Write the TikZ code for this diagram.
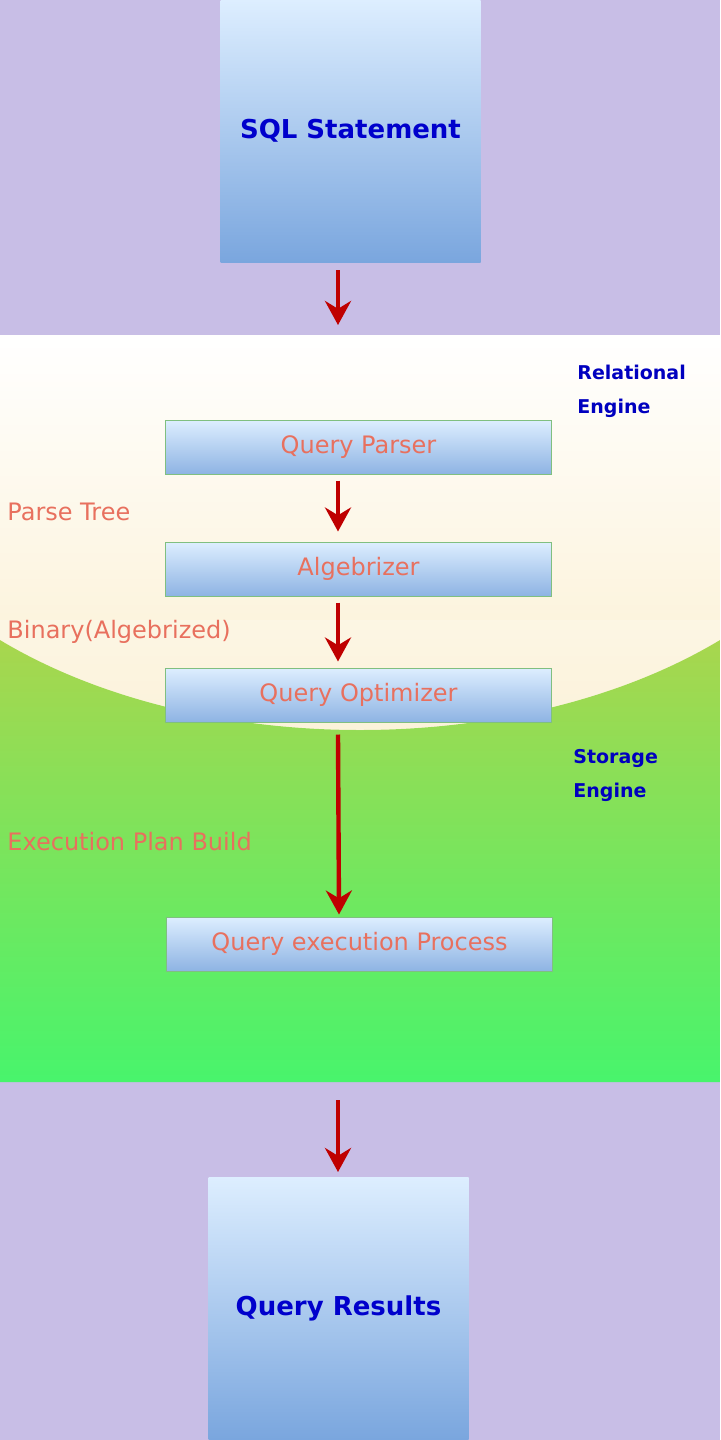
\documentclass[tikz,border=0pt]{standalone}
\usepackage{fontspec}
\setmainfont{DejaVu Sans}
\usetikzlibrary{arrows.meta}
\definecolor{bg}{HTML}{C8BEE6}
\definecolor{cream}{HTML}{FBEFCF}
\definecolor{gtop}{HTML}{A8D64E}
\definecolor{gbot}{HTML}{48F46C}
\definecolor{bbot}{HTML}{7AA6DE}
\definecolor{btop}{HTML}{DDEEFF}
\definecolor{salmon}{HTML}{E8705E}
\begin{document}
\begin{tikzpicture}[x=0.5pt,y=-0.5pt,
  arr/.style={draw=red!75!black,line width=2.2pt,-{Stealth[length=12pt,width=13pt]}},
  bigbox/.style={draw=none,top color=btop,bottom color=bbot,minimum width=130pt,minimum height=131pt,inner sep=0pt,font=\bfseries\fontsize{13}{15}\selectfont,text=blue!80!black},
  stepbox/.style={draw=green!50!black!50,line width=0.5pt,top color=btop,bottom color=bbot!85,minimum width=193pt,minimum height=27pt,inner sep=0pt,font=\fontsize{12}{14}\selectfont,text=salmon},
  lab/.style={anchor=west,font=\fontsize{12}{14}\selectfont,text=salmon,inner sep=0pt},
  eng/.style={anchor=west,align=left,font=\bfseries\fontsize{9.5}{17}\selectfont,text=blue!75!black,inner sep=0pt}]
\useasboundingbox (0,0) rectangle (720,1440);
\fill[bg] (0,0) rectangle (720,1440);
% middle panel
\shade[top color=white,bottom color=cream] (0,335) rectangle (720,745);
\shade[top color=gtop,bottom color=gbot] (0,640) .. controls (200,760) and (520,760) .. (720,640) -- (720,1082) -- (0,1082) -- cycle;
\fill[white,opacity=0.2] (0,640) .. controls (200,760) and (520,760) .. (720,640) -- (720,620) -- (0,620) -- cycle;
\node[bigbox] (sql) at (350.5,131) {SQL Statement};
\node[bigbox] (res) at (338.5,1308) {Query Results};
\node[eng] (rel) at (577,391) {Relational\\Engine};
\node[eng] (sto) at (573,775) {Storage\\Engine};
\node[stepbox] (qp) at (358.5,447) {Query Parser};
\node[stepbox] (alg) at (358.5,569) {Algebrizer};
\node[stepbox] (qo) at (358.5,695) {Query Optimizer};
\node[stepbox] (qe) at (359.5,944) {Query execution Process};
\node[lab] (l1) at (7,512) {Parse Tree};
\node[lab] (l2) at (7,632) {Binary(Algebrized)};
\node[lab] (l3) at (7,842) {Execution Plan Build};
\coordinate (a1s) at (338,270); \coordinate (a1e) at (338,325);
\coordinate (a5s) at (338,1100); \coordinate (a5e) at (338,1172);
\draw[arr] (a1s) -- (a1e);
\draw[arr] ([xshift=-10.25pt,yshift=-3pt]qp.south) -- ([xshift=-10.25pt,yshift=5pt]alg.north);
\draw[arr] ([xshift=-10.25pt,yshift=-3pt]alg.south) -- ([xshift=-10.25pt,yshift=3pt]qo.north);
\draw[arr] ([xshift=-10.25pt,yshift=-6pt]qo.south) -- ([xshift=-10.25pt,yshift=1pt]qe.north);
\draw[arr] (a5s) -- (a5e);
\end{tikzpicture}
\end{document}
